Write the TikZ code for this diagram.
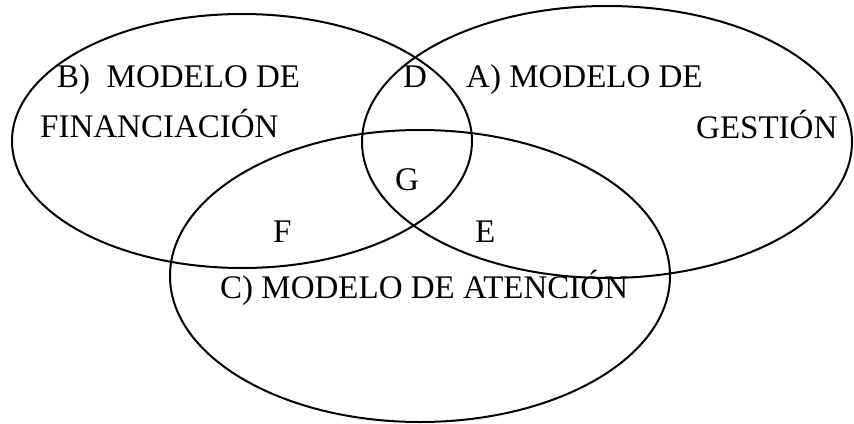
\documentclass[tikz,border=0pt]{standalone}
\usepackage{fontspec}
\setmainfont{Liberation Serif}
\usepackage{tikz}
\usetikzlibrary{positioning}

\begin{document}
\begin{tikzpicture}[
    x=1pt, y=-1pt,
    set/.style={draw=black, line width=2pt},
    settext/.style={anchor=base west, inner sep=0pt, font=\rmfamily\fontsize{33}{38}\selectfont}
]
\useasboundingbox (0,0) rectangle (854,423);
% the three sets
\draw[set] (242,141) ellipse [x radius=230, y radius=127];
\draw[set] (607,142) ellipse [x radius=245, y radius=136];
\draw[set] (420,276) ellipse [x radius=250, y radius=146];
% set names
\node[settext] (finB) at (57,87) {B)\ \ MODELO DE};
\node[settext] (finB2) at (40,137) {FINANCIACIÓN};
\node[settext] (gesA) at (466,87) {A) MODELO DE};
\node[settext] (gesA2) at (696,138) {GESTIÓN};
\node[settext] (ateC) at (220,298) {C) MODELO DE ATENCIÓN};
% overlaps
\node[settext] (secD) at (403,87) {D};
\node[settext] (secG) at (395,190) {G};
\node[settext] (secF) at (273,242) {F};
\node[settext] (secE) at (475,242) {E};
\end{tikzpicture}
\end{document}
